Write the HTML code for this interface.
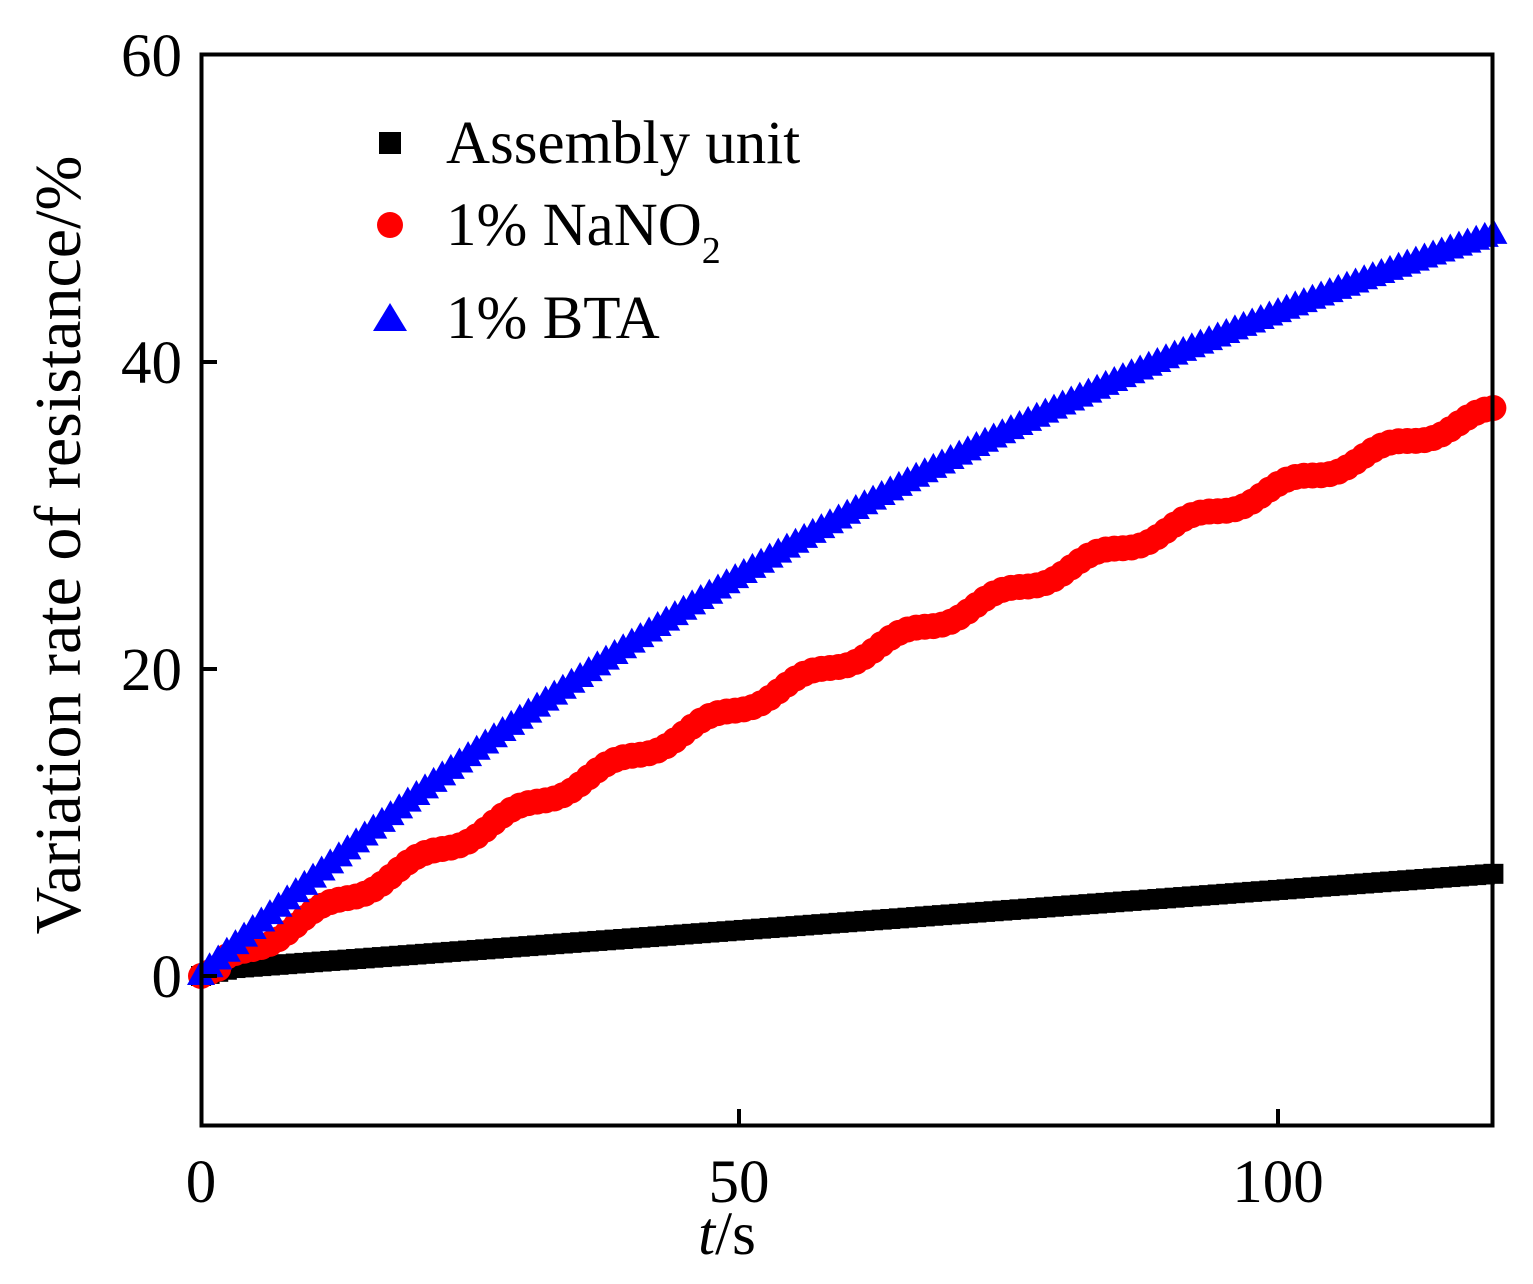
<!DOCTYPE html>
<html><head><meta charset="utf-8"><style>
body{margin:0;background:#fff}
svg{display:block;font-family:"Liberation Serif",serif}
</style></head><body>
<svg id="s" width="1533" height="1284" viewBox="0 0 1533 1284">
<rect width="1533" height="1284" fill="#fff"/>
<g id="data"></g>
<rect x="201.5" y="54.5" width="1291" height="1071" fill="none" stroke="#000" stroke-width="4"/>
<g stroke="#000" stroke-width="4">
<line x1="739" y1="1125" x2="739" y2="1109"/>
<line x1="1278" y1="1125" x2="1278" y2="1109"/>
<line x1="201" y1="362" x2="217" y2="362"/>
<line x1="201" y1="669" x2="217" y2="669"/>
<line x1="201" y1="976" x2="217" y2="976"/>
</g>
<g font-size="61" text-anchor="end">
<text x="182" y="76">60</text>
<text x="182" y="383">40</text>
<text x="182" y="690">20</text>
<text x="182" y="997">0</text>
</g>
<g font-size="61" text-anchor="middle">
<text x="201" y="1202">0</text>
<text x="739" y="1202">50</text>
<text x="1278" y="1202">100</text>
<text x="727" y="1254"><tspan font-style="italic">t</tspan>/s</text>
</g>
<text transform="translate(80,545) rotate(-90)" font-size="66" text-anchor="middle">Variation rate of resistance/%</text>
<rect x="379" y="132" width="22" height="22" fill="#000"/>
<circle cx="390" cy="225" r="13" fill="#f00"/>
<polygon points="390,303 407,331 373,331" fill="#00f"/>
<g font-size="61">
<text x="446" y="163">Assembly unit</text>
<text x="446" y="245">1% NaNO<tspan font-size="38" dy="18">2</tspan></text>
<text x="446" y="338">1% BTA</text>
</g>
</svg>
<script>
var g=document.getElementById('data'),h='';
function X(t){return 201+t*10.77}
function Y(v){return 976-v*15.365}
var t;
for(t=0;t<=120;t+=0.8){var v=t<3?t*0.17:0.35+0.0525*t;h+='<rect x="'+(X(t)-10)+'" y="'+(Y(v)-10)+'" width="20" height="20" fill="#000"/>';}
for(t=0;t<=120;t+=0.8){var v=96.3*(1-Math.exp(-t/250))+0.35*Math.sin(t*0.7);if(t<2)v=t*0.3;h+='<circle cx="'+X(t)+'" cy="'+Y(v)+'" r="13" fill="#f00"/>';}
for(t=0;t<=120;t+=0.8){var v=76.3*(1-Math.exp(-t/120));var x=X(t),y=Y(v);h+='<polygon points="'+x+','+(y-16)+' '+(x+14)+','+(y+9)+' '+(x-14)+','+(y+9)+'" fill="#00f"/>';}
g.innerHTML=h;
</script>
</body></html>
